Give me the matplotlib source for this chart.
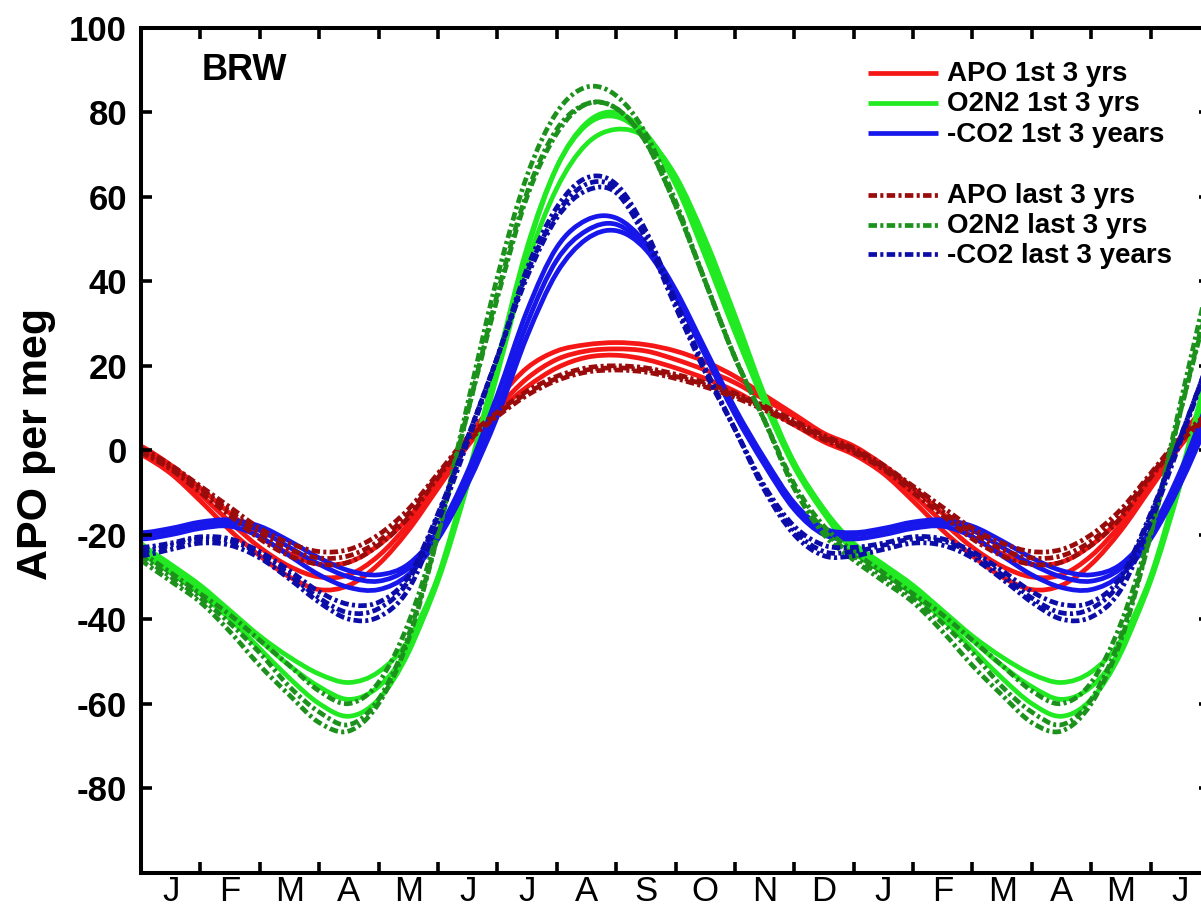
import numpy as np
import matplotlib
matplotlib.use("Agg")
import matplotlib.pyplot as plt
from matplotlib.path import Path
from matplotlib.patches import PathPatch
from matplotlib.lines import Line2D
from matplotlib.ticker import FixedLocator, NullFormatter

plt.rcParams['font.family'] = ['Liberation Sans', 'DejaVu Sans']
plt.rcParams['axes.unicode_minus'] = False

# ---------------------------------------------------------------------------
# Mean seasonal cycles at Barrow (per meg), sampled every half month
# starting 1 January.  Three curves per group (one per year).
# ---------------------------------------------------------------------------
month_labels = ['J', 'F', 'M', 'A', 'M', 'J', 'J', 'A', 'S', 'O', 'N', 'D',
                'J', 'F', 'M', 'A', 'M', 'J']
station = 'BRW'
y_label = 'APO per meg'

apo_first = [
    [-1, -5.5, -12, -19, -25, -30, -33, -32, -27, -19, -9, 1,
     9, 15, 19.5, 22, 22.5, 21.5, 19.5, 17, 14, 10, 6, 2],
    [0, -4.5, -10.5, -17, -23, -27.5, -30, -29.5, -25, -17.5, -8, 2,
     10, 17, 21.5, 23.5, 24, 23.5, 21.5, 19, 16, 12, 8, 3.5],
    [1, -3.5, -9, -15, -20.5, -24.5, -27, -26.5, -22.5, -16, -7, 3,
     12, 19.5, 23.5, 25, 25.5, 25, 23.5, 21, 17.5, 13, 8.5, 4],
]
o2n2_first = [
    [-22, -27, -32, -38, -44, -49, -53, -55, -52.5, -45, -30, -8,
     18, 44, 62, 72.5, 76, 74, 65, 50, 32, 13, -3, -14],
    [-23, -28, -33, -39, -45, -51, -56, -59, -56, -47, -31, -8,
     19, 47, 67, 77.5, 80, 75, 64, 48, 30, 12, -3, -14],
    [-24, -29, -34, -40, -47, -54, -60, -63, -59, -48, -30, -6,
     21, 48, 67, 77, 79, 74, 63, 46, 28, 11, -4, -15],
]
neg_co2_first = [
    [-19.5, -18.5, -17, -16.5, -18, -21.5, -25.5, -28.5, -29.5, -27, -19, -5,
     13, 33, 48, 54.5, 55, 49, 38, 24, 10, -2, -12.5, -18.5],
    [-20, -19, -17.5, -17, -19, -23, -27, -30, -31, -28, -20, -7,
     10, 30, 45, 52, 53.5, 48, 37, 23, 9, -3, -13, -19],
    [-21, -20, -18.5, -18, -20.5, -25, -29.5, -32.5, -33, -29.5, -21, -8,
     8, 27, 42, 50, 52, 47.5, 36.5, 22.5, 8.5, -3.5, -14, -20],
]
apo_last = [
    [0.5, -3.5, -8.5, -13.5, -18.5, -22, -24, -23.5, -20, -14, -5.5, 3,
     9, 14, 17.5, 19.5, 20, 19.5, 18, 16, 13.5, 10.5, 7, 3.5],
    [0, -4, -9, -14.5, -19.5, -23.5, -25.5, -25, -21.5, -15, -6, 2.5,
     8.5, 13.5, 17, 19, 19.5, 19, 17.5, 15.5, 13, 10, 6.5, 3],
    [-0.5, -4.5, -10, -15.5, -21, -25, -27, -26.5, -22.5, -16, -6.5, 2,
     8, 13, 16.5, 18.5, 19, 18.5, 17, 15, 12.5, 9.5, 6, 2.5],
]
o2n2_last = [
    [-24, -29, -34, -39, -45, -51, -57, -60, -55, -41, -19, 9,
     36, 60, 75, 82, 81, 73, 58, 40, 22, 7, -8, -18],
    [-25, -30, -35, -41, -48, -56, -62, -65, -59, -44, -20, 9,
     37, 61, 76, 82, 81, 73, 58, 40, 22, 7, -9, -19],
    [-26, -31, -36, -43, -51, -58, -64.5, -66.5, -60, -45, -20, 11,
     41, 65, 80, 86, 84, 75, 59, 40, 22, 7, -9, -20],
]
neg_co2_last = [
    [-23, -22, -20.5, -21, -24, -28.5, -33.5, -36.5, -36, -30, -15, 3,
     22, 41, 55, 61.5, 61, 50, 34, 18.5, 5, -8.5, -18, -22.5],
    [-24, -22.5, -21, -21.5, -24.5, -29.5, -35, -38.5, -37.5, -31, -15.5, 3,
     22, 42, 56, 63, 62, 51, 35, 19, 5, -9, -19, -24],
    [-25, -23.5, -22, -22.5, -25.5, -30.5, -36, -40, -39.5, -33, -17, 2,
     22, 43, 57.5, 64.5, 63, 52, 35.5, 19.5, 5, -9.5, -20, -25],
]

series = [
    ('APO 1st 3 yrs', apo_first, '#f51616', 'solid'),
    ('O2N2 1st 3 yrs', o2n2_first, '#22ea22', 'solid'),
    ('-CO2 1st 3 years', neg_co2_first, '#1717ec', 'solid'),
    ('APO last 3 yrs', apo_last, '#9a0c0c', 'dashdot'),
    ('O2N2 last 3 yrs', o2n2_last, '#1c921c', 'dashdot'),
    ('-CO2 last 3 years', neg_co2_last, '#0c0ca8', 'dashdot'),
]

span_months = len(month_labels)
LW = 3.4
DASH = (0, (1.8, 0.7, 0.65, 0.7))


def cycle_path(values, months=span_months):
    """Smooth (Catmull-Rom) path through a repeating annual cycle."""
    vals = np.asarray(values, dtype=float)
    n = len(vals)
    step = 12.0 / n
    k = np.arange(-1, int(round(months / step)) + 2)
    xs = k * step
    ys = vals[k % n]
    verts = [(xs[1], ys[1])]
    codes = [Path.MOVETO]
    for i in range(1, len(xs) - 2):
        c1 = (xs[i] + (xs[i + 1] - xs[i - 1]) / 6.0,
              ys[i] + (ys[i + 1] - ys[i - 1]) / 6.0)
        c2 = (xs[i + 1] - (xs[i + 2] - xs[i]) / 6.0,
              ys[i + 1] - (ys[i + 2] - ys[i]) / 6.0)
        verts += [c1, c2, (xs[i + 1], ys[i + 1])]
        codes += [Path.CURVE4] * 3
    return Path(verts, codes)


W, H = 1201, 908
fig = plt.figure(figsize=(W / 100, H / 100), dpi=100)
# axes frame: left spine at 141 px, right spine just past the figure edge
ax = fig.add_axes([141 / W, 35.5 / H, 1069 / W, 844.5 / H])

for label, curves, color, style in series:
    ls = '-' if style == 'solid' else DASH
    for vals in curves:
        patch = PathPatch(cycle_path(vals), facecolor='none', edgecolor=color,
                          linewidth=LW, linestyle=ls, capstyle='butt',
                          joinstyle='round')
        ax.add_patch(patch)

ax.set_xlim(0, span_months)
ax.set_ylim(-100, 100)

# month boundaries as ticks, month initials centred in each month
ax.xaxis.set_major_locator(FixedLocator(np.arange(1, span_months)))
ax.xaxis.set_major_formatter(NullFormatter())
ax.set_xticks(np.arange(span_months) + 0.5, minor=True)
ax.set_xticklabels(month_labels, minor=True, fontsize=25)
ax.tick_params(axis='x', which='major', direction='in', length=8, width=2.6,
               top=True, bottom=True)
ax.tick_params(axis='x', which='minor', length=0, pad=1.5)

ax.set_yticks(np.arange(-80, 101, 20))
ax.tick_params(axis='y', which='major', direction='in', length=8, width=2.6,
               left=True, right=True, labelsize=25, pad=10)
for t in ax.get_yticklabels():
    t.set_fontweight('bold')

for s in ax.spines.values():
    s.set_linewidth(2.9)

ax.text(0.057, 0.9384, station, transform=ax.transAxes, fontsize=26,
        fontweight='bold', va='baseline', ha='left')

fig.text(0.030, 0.511, y_label, rotation=90, fontsize=31, fontweight='bold',
         ha='center', va='center')

# legend drawn as a block in the upper right
line_x0, line_x1, text_x = 0.680, 0.7456, 0.754
line_rows = [0.9467, 0.9112, 0.8751, 0.8028, 0.7673, 0.7318]
text_offset = 0.0100
for (label, curves, color, style), yr in zip(series, line_rows):
    ls = '-' if style == 'solid' else DASH
    ax.add_line(Line2D([line_x0, line_x1], [yr, yr], transform=ax.transAxes,
                       color=color, linewidth=LW, linestyle=ls,
                       solid_capstyle='butt', dash_capstyle='butt'))
    ax.text(text_x, yr - text_offset, label, transform=ax.transAxes,
            fontsize=20, fontweight='bold', va='baseline', ha='left')

fig.savefig('out.png', dpi=100)
